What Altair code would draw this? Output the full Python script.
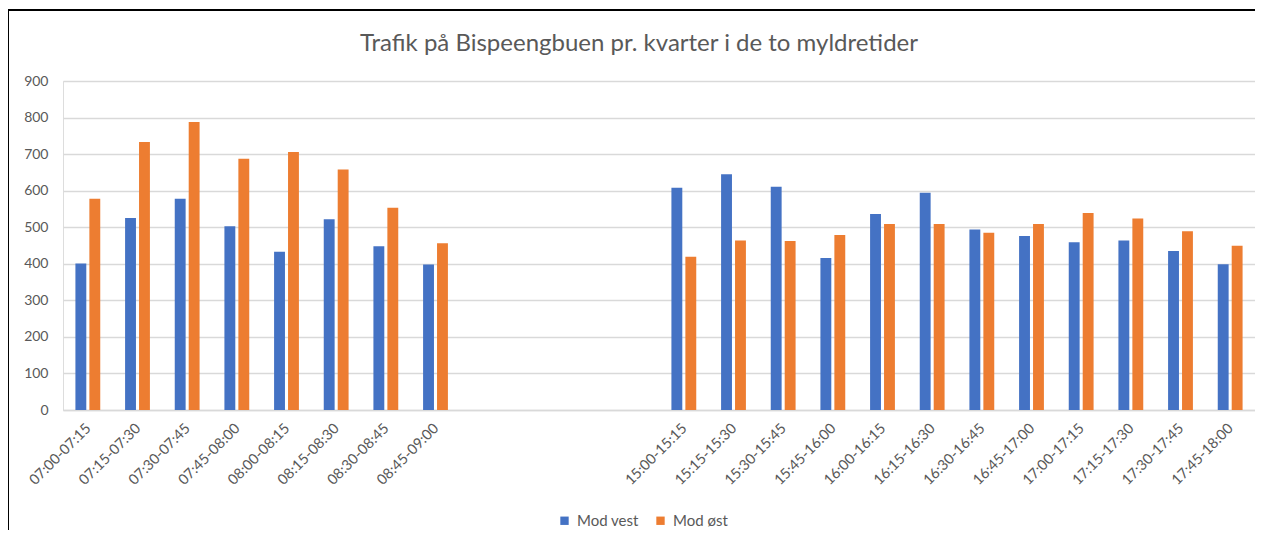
import altair as alt
import pandas as pd

morning_labels = ["07:00-07:15", "07:15-07:30", "07:30-07:45", "07:45-08:00",
                  "08:00-08:15", "08:15-08:30", "08:30-08:45", "08:45-09:00"]
morning_vest = [401, 525, 578, 503, 433, 522, 448, 398]
morning_ost = [578, 733, 788, 687, 706, 658, 553, 456]

gap_labels = [" ", "  ", "   ", "    "]

afternoon_labels = ["15:00-15:15", "15:15-15:30", "15:30-15:45", "15:45-16:00",
                    "16:00-16:15", "16:15-16:30", "16:30-16:45", "16:45-17:00",
                    "17:00-17:15", "17:15-17:30", "17:30-17:45", "17:45-18:00"]
afternoon_vest = [608, 645, 611, 416, 536, 594, 494, 476, 459, 464, 435, 399]
afternoon_ost = [419, 464, 462, 479, 509, 509, 485, 509, 539, 524, 489, 449]

series_names = ["Mod vest", "Mod øst"]
series_colors = ["#4472C4", "#ED7D31"]
y_ticks = [0, 100, 200, 300, 400, 500, 600, 700, 800, 900]
title_text = "Trafik på Bispeengbuen  pr. kvarter i de to myldretider"

rows = []
for labels, vest, ost in [(morning_labels, morning_vest, morning_ost),
                          (afternoon_labels, afternoon_vest, afternoon_ost)]:
    for lab, v, o in zip(labels, vest, ost):
        rows.append({"kvarter": lab, "retning": series_names[0], "antal": v})
        rows.append({"kvarter": lab, "retning": series_names[1], "antal": o})
df = pd.DataFrame(rows)

domain = morning_labels + gap_labels + afternoon_labels

FONT = "Lato"
GREY = "#595959"

bars = alt.Chart(df).mark_bar().encode(
    x=alt.X("kvarter:N", sort=domain,
            scale=alt.Scale(domain=domain, paddingInner=0.5, paddingOuter=0.25),
            axis=alt.Axis(title=None, labelAngle=-45, labelAlign="right",
                          labelBaseline="middle", labelPadding=16, labelOffset=1,
                          ticks=False, domainColor="#d9d9d9", domainWidth=1.5,
                          labelColor=GREY, labelFontSize=14.5, labelFont=FONT,
                          grid=False)),
    xOffset=alt.XOffset("retning:N", sort=series_names,
                        scale=alt.Scale(paddingInner=0.22, paddingOuter=0)),
    y=alt.Y("antal:Q",
            scale=alt.Scale(domain=[0, 900], nice=False),
            axis=alt.Axis(title=None, values=y_ticks, ticks=False, domain=False,
                          labelColor=GREY, labelFontSize=14, labelFont=FONT,
                          labelPadding=15, gridColor="#d9d9d9", gridWidth=1.5)),
    color=alt.Color("retning:N", sort=series_names,
                    scale=alt.Scale(domain=series_names, range=series_colors),
                    legend=alt.Legend(title=None, orient="none", direction="horizontal",
                                      legendX=494, legendY=432,
                                      symbolType="square", symbolSize=70,
                                      symbolStrokeWidth=0,
                                      labelFontSize=15, labelColor=GREY, labelFont=FONT,
                                      columnPadding=14, labelOffset=5)),
)

frame_left = alt.Chart(alt.Data(values=[{}])).mark_rule(color="#000000", strokeWidth=2).encode(
    x=alt.value(-55), y=alt.value(-71), y2=alt.value(470))
frame_top = alt.Chart(alt.Data(values=[{}])).mark_rule(color="#000000", strokeWidth=2).encode(
    x=alt.value(-56), x2=alt.value(1192), y=alt.value(-71))

chart = alt.layer(bars, frame_left, frame_top).properties(
    width=1192, height=329,
    autosize=alt.AutoSizeParams(type="none"),
    padding={"left": 55, "top": 73, "right": 0, "bottom": 120},
    title=alt.TitleParams(title_text, fontSize=24, font=FONT, fontWeight="normal",
                          color=GREY, anchor="middle", offset=-47, dx=-20),
).configure_view(stroke=None).configure(background="white")

chart.save("out.html", embed_options={"renderer": "svg", "actions": False})
